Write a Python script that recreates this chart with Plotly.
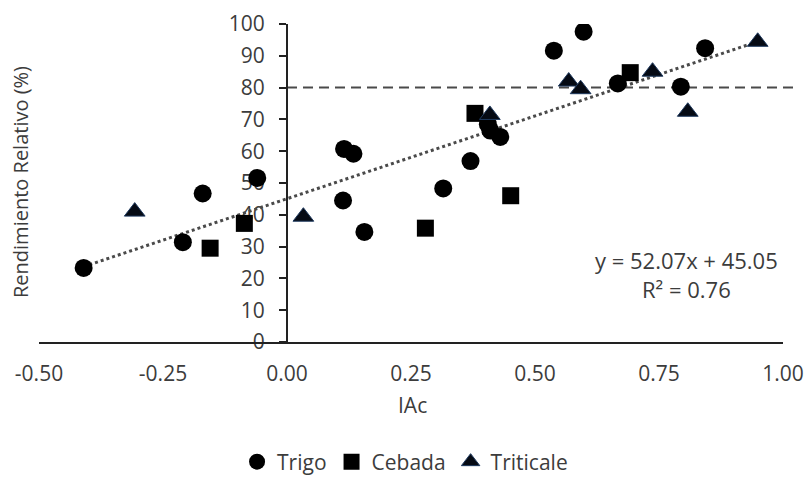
import plotly.graph_objects as go

# --- data ---
trigo_x = [-0.41, -0.21, -0.17, -0.06, 0.115, 0.134, 0.113, 0.156, 0.315, 0.37, 0.405, 0.41, 0.43, 0.538, 0.598, 0.667, 0.794, 0.843]
trigo_y = [23.3, 31.4, 46.7, 51.6, 60.7, 59.2, 44.5, 34.6, 48.3, 56.9, 68.5, 66.5, 64.5, 91.6, 97.6, 81.3, 80.3, 92.4]

cebada_x = [-0.155, -0.086, 0.279, 0.379, 0.451, 0.692]
cebada_y = [29.5, 37.3, 35.8, 71.9, 46.0, 84.7]

triticale_x = [-0.307, 0.033, 0.409, 0.568, 0.592, 0.737, 0.808, 0.949]
triticale_y = [41.0, 39.4, 71.4, 81.9, 79.5, 85.0, 72.4, 94.4]

slope = 52.07
intercept = 45.05
trend_x = [min(trigo_x + cebada_x + triticale_x), max(trigo_x + cebada_x + triticale_x)]
trend_y = [slope * v + intercept for v in trend_x]

threshold = 80

x_tickvals = [-0.5, -0.25, 0.0, 0.25, 0.5, 0.75, 1.0]
x_ticktext = ["-0.50", "-0.25", "0.00", "0.25", "0.50", "0.75", "1.00"]
y_tickvals = [0, 10, 20, 30, 40, 50, 60, 70, 80, 90, 100]

FONT = "Open Sans"
TXT = "#3c3c3c"

fig = go.Figure()

fig.add_trace(go.Scatter(
    x=trend_x, y=trend_y, mode="lines", showlegend=False,
    line=dict(color="#4a4a4a", width=3, dash="dot"), hoverinfo="skip"))

fig.add_trace(go.Scatter(
    x=trigo_x, y=trigo_y, mode="markers", name="Trigo",
    marker=dict(symbol="circle", size=18, color="black", line=dict(width=0))))
fig.add_trace(go.Scatter(
    x=cebada_x, y=cebada_y, mode="markers", name="Cebada",
    marker=dict(symbol="square", size=17, color="black", line=dict(width=0))))
fig.add_trace(go.Scatter(
    x=triticale_x, y=triticale_y, mode="markers", name="Triticale",
    marker=dict(symbol="triangle-up", size=18, color="#050a14", line=dict(width=1, color="#1f3a5f"))))

xmin, xmax = -0.5, 1.0
ypos = (0 - xmin) / (xmax - xmin)

fig.add_shape(type="line", xref="paper", yref="paper",
              x0=ypos, x1=1.019, y0=threshold / 100, y1=threshold / 100,
              line=dict(color="#4a4a4a", width=2, dash="10px,6px"), layer="below")

fig.update_layout(
    width=809, height=478,
    margin=dict(l=39, r=26, t=24, b=136, autoexpand=False),
    paper_bgcolor="white", plot_bgcolor="white",
    font=dict(family=FONT, size=21, color=TXT),
    xaxis=dict(range=[xmin, xmax], tickvals=x_tickvals, ticktext=x_ticktext,
               showgrid=False, zeroline=False, showline=True, linecolor="#222222",
               linewidth=2, ticks="", ticklabelstandoff=12,
               tickfont=dict(size=21, color=TXT)),
    yaxis=dict(range=[0, 100], tickvals=y_tickvals, showgrid=False, zeroline=False,
               showline=True, linecolor="#222222", linewidth=2,
               ticks="outside", ticklen=7, tickwidth=2, tickcolor="#222222",
               anchor="free", position=ypos, layer="below traces",
               ticklabelstandoff=10, tickfont=dict(size=21, color=TXT)),
    legend=dict(orientation="h", x=0.492, xanchor="center", y=(342 - 462) / 318, yanchor="middle",
                font=dict(size=21, color=TXT), itemwidth=30, tracegroupgap=0,
                bgcolor="rgba(0,0,0,0)"),
    showlegend=True,
)

fig.add_annotation(text="Rendimiento Relativo (%)", xref="paper", yref="paper",
                   x=(20 - 39) / 744, y=(342 - 182) / 318, textangle=-90,
                   showarrow=False, font=dict(size=20, color=TXT),
                   xanchor="center", yanchor="middle")
fig.add_annotation(text="IAc", xref="paper", yref="paper",
                   x=(412 - 39) / 744, y=(342 - 405) / 318, showarrow=False,
                   font=dict(size=21, color=TXT), xanchor="center", yanchor="middle")
fig.add_annotation(text="y = 52.07x + 45.05<br>R² = 0.76", xref="paper", yref="paper",
                   x=(686 - 39) / 744, y=(342 - 274) / 318, showarrow=False,
                   font=dict(size=22, color=TXT), align="center",
                   xanchor="center", yanchor="middle")

fig.write_html("out.html")
